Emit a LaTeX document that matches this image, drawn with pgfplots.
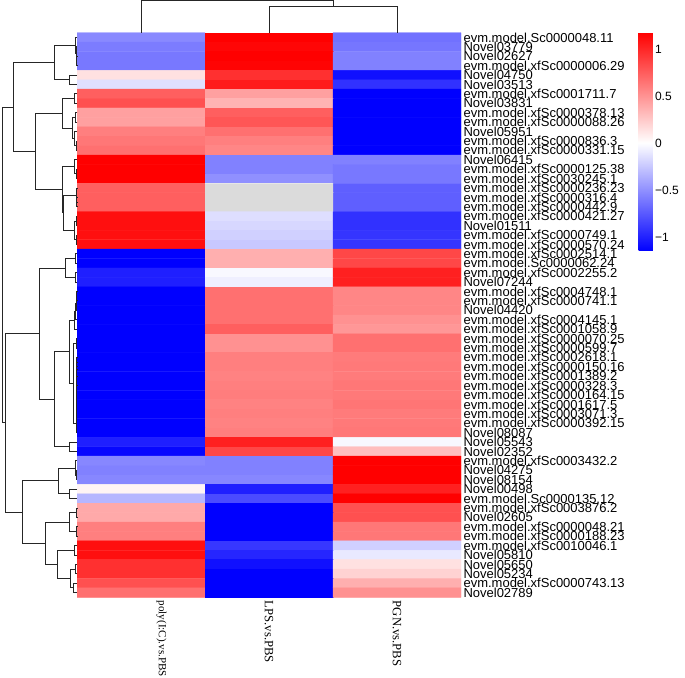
\documentclass[border=0pt]{standalone}
\usepackage{pgfplots}
\pgfplotsset{compat=1.18}
\usepackage{fontspec}
\setmainfont{Liberation Sans}
\newfontfamily\colfont{Liberation Serif}

\begin{document}
\begin{tikzpicture}[x=1pt,y=1pt]
\useasboundingbox (0,0) rectangle (685,677);
\pgfplotsset{tree/.style={draw=black!85, line width=0.8pt}}

% ---------------- heatmap ----------------
\begin{axis}[
  at={(77pt,79.7pt)}, anchor=south west, scale only axis,
  width=384pt, height=564.6pt,
  xmin=-0.5, xmax=2.5, ymin=-0.5, ymax=59.5, y dir=reverse,
  axis line style={draw=none}, tick style={draw=none},
  xtick={0.16,1,2},
  xticklabels={{\fontsize{11}{11}\selectfont poly(I:C).vs.PBS}, LPS.vs.PBS, PGN.vs.PBS},
  xticklabel style={rotate=-90, anchor=west, font=\colfont\fontsize{12.7}{12.7}\selectfont},
  ytick={0,...,59}, yticklabel pos=right,
  yticklabels={evm.model.Sc0000048.11, Novel03779, Novel02627, evm.model.xfSc0000006.29, Novel04750, Novel03513, evm.model.xfSc0001711.7, Novel03831, evm.model.xfSc0000378.13, evm.model.xfSc0000088.26, Novel05951, evm.model.xfSc0000836.3, evm.model.xfSc0000331.15, Novel06415, evm.model.xfSc0000125.38, evm.model.xfSc0030245.1, evm.model.xfSc0000236.23, evm.model.xfSc0000316.4, evm.model.xfSc0000442.9, evm.model.xfSc0000421.27, Novel01511, evm.model.xfSc0000749.1, evm.model.xfSc0000570.24, evm.model.xfSc0002514.1, evm.model.Sc0000062.24, evm.model.xfSc0002255.2, Novel07244, evm.model.xfSc0004748.1, evm.model.xfSc0000741.1, Novel04420, evm.model.xfSc0004145.1, evm.model.xfSc0001058.9, evm.model.xfSc0000070.25, evm.model.xfSc0000599.7, evm.model.xfSc0002618.1, evm.model.xfSc0000150.16, evm.model.xfSc0001389.2, evm.model.xfSc0000328.3, evm.model.xfSc0000164.15, evm.model.xfSc0001617.5, evm.model.xfSc0003071.3, evm.model.xfSc0000392.15, Novel08087, Novel05543, Novel02352, evm.model.xfSc0003432.2, Novel04275, Novel08154, Novel00498, evm.model.Sc0000135.12, evm.model.xfSc0003876.2, Novel02605, evm.model.xfSc0000048.21, evm.model.xfSc0000188.23, evm.model.xfSc0010046.1, Novel05810, Novel05650, Novel05234, evm.model.xfSc0000743.13, Novel02789},
  yticklabel style={font=\fontsize{13}{13}\selectfont, anchor=west, xshift=-1pt},
  colormap={bwr}{rgb255(0pt)=(0,0,255); rgb255(115pt)=(255,255,255); rgb255(233pt)=(255,0,0)},
  point meta min=-1.15, point meta max=1.18,
  colorbar,
  colorbar style={
    at={(parent axis.north east)}, anchor=north west, xshift=169pt, yshift=0.7pt,
    scale only axis, width=15pt, height=219pt,
    axis line style={draw=none}, tick style={draw=none},
    ytick={-1,-0.5,0,0.5,1}, yticklabels={−1,−0.5,0,0.5,1},
    yticklabel style={font=\fontsize{12}{12}\selectfont, anchor=west, xshift=-2pt},
  },
]
\addplot[matrix plot*, mesh/cols=3, point meta=explicit] coordinates {
(0,0) [-0.53] (1,0) [1.18] (2,0) [-0.64]
(0,1) [-0.59] (1,1) [1.15] (2,1) [-0.62]
(0,2) [-0.61] (1,2) [1.18] (2,2) [-0.57]
(0,3) [-0.61] (1,3) [1.16] (2,3) [-0.57]
(0,4) [0.14] (1,4) [0.96] (2,4) [-1.08]
(0,5) [-0.14] (1,5) [1.05] (2,5) [-0.93]
(0,6) [0.74] (1,6) [0.44] (2,6) [-1.15]
(0,7) [0.81] (1,7) [0.35] (2,7) [-1.15]
(0,8) [0.44] (1,8) [0.74] (2,8) [-1.15]
(0,9) [0.44] (1,9) [0.78] (2,9) [-1.15]
(0,10) [0.59] (1,10) [0.66] (2,10) [-1.15]
(0,11) [0.63] (1,11) [0.59] (2,11) [-1.15]
(0,12) [0.66] (1,12) [0.56] (2,12) [-1.15]
(0,13) [1.18] (1,13) [-0.57] (2,13) [-0.57]
(0,14) [1.18] (1,14) [-0.57] (2,14) [-0.61]
(0,15) [1.18] (1,15) [-0.50] (2,15) [-0.61]
(0,16) [0.74] (1,16) [0] (2,16) [-0.72]
(0,17) [0.74] (1,17) [0] (2,17) [-0.72]
(0,18) [0.74] (1,18) [0] (2,18) [-0.72]
(0,19) [1.11] (1,19) [-0.15] (2,19) [-0.93]
(0,20) [1.11] (1,20) [-0.18] (2,20) [-0.93]
(0,21) [1.11] (1,21) [-0.21] (2,21) [-0.91]
(0,22) [1.11] (1,22) [-0.25] (2,22) [-0.91]
(0,23) [-1.15] (1,23) [0.37] (2,23) [0.85]
(0,24) [-1.15] (1,24) [0.37] (2,24) [0.85]
(0,25) [-1.01] (1,25) [-0.03] (2,25) [1.03]
(0,26) [-1.01] (1,26) [-0.07] (2,26) [1.03]
(0,27) [-1.15] (1,27) [0.66] (2,27) [0.56]
(0,28) [-1.15] (1,28) [0.66] (2,28) [0.56]
(0,29) [-1.15] (1,29) [0.66] (2,29) [0.56]
(0,30) [-1.15] (1,30) [0.66] (2,30) [0.51]
(0,31) [-1.15] (1,31) [0.74] (2,31) [0.48]
(0,32) [-1.15] (1,32) [0.51] (2,32) [0.66]
(0,33) [-1.15] (1,33) [0.51] (2,33) [0.66]
(0,34) [-1.15] (1,34) [0.59] (2,34) [0.61]
(0,35) [-1.15] (1,35) [0.59] (2,35) [0.62]
(0,36) [-1.15] (1,36) [0.58] (2,36) [0.61]
(0,37) [-1.15] (1,37) [0.59] (2,37) [0.63]
(0,38) [-1.15] (1,38) [0.60] (2,38) [0.62]
(0,39) [-1.15] (1,39) [0.58] (2,39) [0.64]
(0,40) [-1.15] (1,40) [0.59] (2,40) [0.61]
(0,41) [-1.15] (1,41) [0.58] (2,41) [0.62]
(0,42) [-1.15] (1,42) [0.59] (2,42) [0.63]
(0,43) [-1.01] (1,43) [1.03] (2,43) [-0.03]
(0,44) [-1.12] (1,44) [0.85] (2,44) [0.30]
(0,45) [-0.54] (1,45) [-0.57] (2,45) [1.18]
(0,46) [-0.57] (1,46) [-0.57] (2,46) [1.18]
(0,47) [-0.54] (1,47) [-0.54] (2,47) [1.18]
(0,48) [0.05] (1,48) [-1.01] (2,48) [1.03]
(0,49) [-0.33] (1,49) [-0.81] (2,49) [1.18]
(0,50) [0.40] (1,50) [-1.15] (2,50) [0.81]
(0,51) [0.40] (1,51) [-1.15] (2,51) [0.81]
(0,52) [0.59] (1,52) [-1.15] (2,52) [0.63]
(0,53) [0.59] (1,53) [-1.15] (2,53) [0.63]
(0,54) [1.11] (1,54) [-0.90] (2,54) [-0.21]
(0,55) [1.11] (1,55) [-0.98] (2,55) [-0.10]
(0,56) [0.96] (1,56) [-1.08] (2,56) [0.14]
(0,57) [0.96] (1,57) [-1.15] (2,57) [0.21]
(0,58) [0.81] (1,58) [-1.15] (2,58) [0.37]
(0,59) [0.66] (1,59) [-1.15] (2,59) [0.51]
};
% NA cells
\addplot[fill=black!14, draw=none] coordinates {(0.5,15.5) (1.5,15.5) (1.5,18.5) (0.5,18.5) (0.5,15.5)};
\end{axis}

% ---------------- top dendrogram ----------------
\begin{axis}[
  at={(77pt,644.3pt)}, anchor=south west, scale only axis,
  width=384pt, height=32.7pt,
  xmin=-0.5, xmax=2.5, ymin=0, ymax=32.7, hide axis, clip=false,
]
\addplot[tree] coordinates {(1,0) (1,26) (2,26) (2,0)};
\addplot[tree] coordinates {(0,0) (0,32) (1.5,32) (1.5,26)};
\end{axis}

% ---------------- left dendrogram ----------------
\begin{axis}[
  at={(0pt,79.7pt)}, anchor=south west, scale only axis,
  width=77pt, height=564.6pt,
  xmin=0, xmax=77, x dir=reverse, ymin=-0.5, ymax=59.5, y dir=reverse,
  hide axis, clip=false,
]
\addplot[tree] coordinates {(0,2) (0.5,2) (0.5,3) (0,3)};
\addplot[tree] coordinates {(0,1) (1.0,1) (1.0,2.5) (0.5,2.5)};
\addplot[tree] coordinates {(0,0) (2,0) (2,1.75) (1,1.75)};
\addplot[tree] coordinates {(0,4) (7.7,4) (7.7,5) (0,5)};
\addplot[tree] coordinates {(2,0.875) (22.3,0.875) (22.3,4.5) (7.7,4.5)};
\addplot[tree] coordinates {(0,6) (2.7,6) (2.7,7) (0,7)};
\addplot[tree] coordinates {(0,8) (1.5,8) (1.5,9) (0,9)};
\addplot[tree] coordinates {(0,11) (1,11) (1,12) (0,12)};
\addplot[tree] coordinates {(0,10) (2.2,10) (2.2,11.5) (1,11.5)};
\addplot[tree] coordinates {(1.5,8.5) (4.5,8.5) (4.5,10.75) (2.2,10.75)};
\addplot[tree] coordinates {(2.7,6.5) (14.3,6.5) (14.3,9.625) (4.5,9.625)};
\addplot[tree] coordinates {(0,14) (1,14) (1,15) (0,15)};
\addplot[tree] coordinates {(0,13) (2.5,13) (2.5,14.5) (1,14.5)};
\addplot[tree] coordinates {(0,17) (0.3,17) (0.3,18) (0,18)};
\addplot[tree] coordinates {(0,16) (0.5,16) (0.5,17.5) (0.3,17.5)};
\addplot[tree] coordinates {(0,19) (0.8,19) (0.8,20) (0,20)};
\addplot[tree] coordinates {(0,21) (1,21) (1,22) (0,22)};
\addplot[tree] coordinates {(0.8,19.5) (3,19.5) (3,21.5) (1,21.5)};
\addplot[tree] coordinates {(0.5,16.75) (13.5,16.75) (13.5,20.5) (3,20.5)};
\addplot[tree] coordinates {(2.5,13.75) (14.7,13.75) (14.7,18.625) (13.5,18.625)};
\addplot[tree] coordinates {(14.3,8.0625) (41.3,8.0625) (41.3,16.1875) (14.7,16.1875)};
\addplot[tree] coordinates {(22.3,2.6875) (63.3,2.6875) (63.3,12.125) (41.3,12.125)};
\addplot[tree] coordinates {(0,23) (1.5,23) (1.5,24) (0,24)};
\addplot[tree] coordinates {(0,25) (1.5,25) (1.5,26) (0,26)};
\addplot[tree] coordinates {(1.5,23.5) (11.7,23.5) (11.7,25.5) (1.5,25.5)};
\addplot[tree] coordinates {(0,27) (0.5,27) (0.5,28) (0,28)};
\addplot[tree] coordinates {(0.5,27.5) (0.8,27.5) (0.8,29) (0,29)};
\addplot[tree] coordinates {(0.8,28.25) (1.2,28.25) (1.2,30) (0,30)};
\addplot[tree] coordinates {(1.2,29.125) (2.5,29.125) (2.5,31) (0,31)};
\addplot[tree] coordinates {(0,32) (0.8,32) (0.8,33) (0,33)};
\addplot[tree] coordinates {(0,34) (0.3,34) (0.3,35) (0,35)};
\addplot[tree] coordinates {(0.3,34.5) (0.4,34.5) (0.4,36) (0,36)};
\addplot[tree] coordinates {(0.4,35.25) (0.5,35.25) (0.5,37) (0,37)};
\addplot[tree] coordinates {(0.5,36.125) (0.6,36.125) (0.6,38) (0,38)};
\addplot[tree] coordinates {(0.6,37.063) (0.7,37.063) (0.7,39) (0,39)};
\addplot[tree] coordinates {(0.7,38.031) (0.8,38.031) (0.8,40) (0,40)};
\addplot[tree] coordinates {(0.8,39.016) (0.9,39.016) (0.9,41) (0,41)};
\addplot[tree] coordinates {(0.9,40.008) (1.0,40.008) (1.0,42) (0,42)};
\addplot[tree] coordinates {(0.8,32.5) (3.5,32.5) (3.5,41.004) (1.0,41.004)};
\addplot[tree] coordinates {(2.5,30.0625) (8,30.0625) (8,36.752) (3.5,36.752)};
\addplot[tree] coordinates {(0,43) (8,43) (8,44) (0,44)};
\addplot[tree] coordinates {(8,33.406) (22.3,33.406) (22.3,43.5) (8,43.5)};
\addplot[tree] coordinates {(11.7,24.5) (37.7,24.5) (37.7,38.453) (22.3,38.453)};
\addplot[tree] coordinates {(0,46) (0.8,46) (0.8,47) (0,47)};
\addplot[tree] coordinates {(0,45) (1.5,45) (1.5,46.5) (0.8,46.5)};
\addplot[tree] coordinates {(0,48) (8,48) (8,49) (0,49)};
\addplot[tree] coordinates {(1.5,45.75) (19,45.75) (19,48.5) (8,48.5)};
\addplot[tree] coordinates {(0,50) (0.5,50) (0.5,51) (0,51)};
\addplot[tree] coordinates {(0,52) (0.5,52) (0.5,53) (0,53)};
\addplot[tree] coordinates {(0.5,50.5) (8,50.5) (8,52.5) (0.5,52.5)};
\addplot[tree] coordinates {(0,54) (3,54) (3,55) (0,55)};
\addplot[tree] coordinates {(0,56) (2,56) (2,57) (0,57)};
\addplot[tree] coordinates {(0,58) (4,58) (4,59) (0,59)};
\addplot[tree] coordinates {(2,56.5) (6.5,56.5) (6.5,58.5) (4,58.5)};
\addplot[tree] coordinates {(3,54.5) (20,54.5) (20,57.5) (6.5,57.5)};
\addplot[tree] coordinates {(8,51.5) (32,51.5) (32,56) (20,56)};
\addplot[tree] coordinates {(19,47.125) (55,47.125) (55,53.75) (32,53.75)};
\addplot[tree] coordinates {(37.7,31.477) (71.7,31.477) (71.7,50.438) (55,50.438)};
\addplot[tree] coordinates {(63.3,7.406) (75,7.406) (75,40.957) (71.7,40.957)};
\end{axis}
\end{tikzpicture}
\end{document}
